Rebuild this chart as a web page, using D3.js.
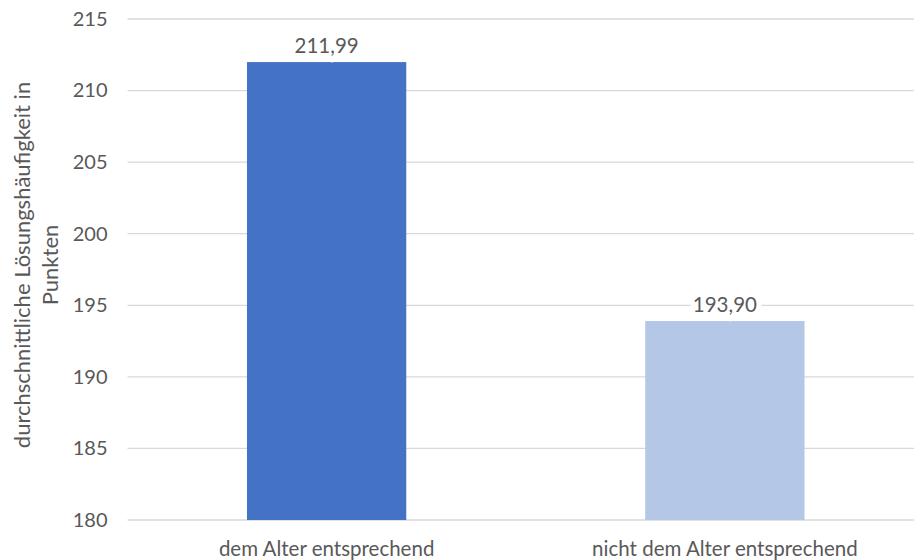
<!DOCTYPE html>
<html>
<head>
<meta charset="utf-8">
<script src="https://cdn.jsdelivr.net/npm/d3@7"></script>
<style>
  html, body { margin: 0; padding: 0; background: #ffffff; }
  svg { display: block; }
  text { font-family: "Lato", "Open Sans", sans-serif; fill: #595959; }
</style>
</head>
<body>
<svg id="chart" width="914" height="560"></svg>
<script>
// Categories and their average scores
const categories = ["dem Alter entsprechend", "nicht dem Alter entsprechend"];
const values = [211.99, 193.90];
const valueLabels = ["211,99", "193,90"];
const yTicks = [180, 185, 190, 195, 200, 205, 210, 215];
const colors = ["#4472c4", "#b4c7e7"];
const yTitle = ["durchschnittliche Lösungshäufigkeit in", "Punkten"];

const svg = d3.select("#chart");
const margin = { left: 127.5, top: 19, right: -10, bottom: 40 };
const width = 914 - margin.left - margin.right;
const height = 560 - margin.top - margin.bottom;

const g = svg.append("g").attr("transform", `translate(${margin.left},${margin.top})`);

const x = d3.scaleBand().domain(categories).range([0, width]).paddingInner(0.6).paddingOuter(0.3);
const y = d3.scaleLinear().domain([180, 215]).range([height, 0]);

// Horizontal gridlines
g.append("g")
  .selectAll("line")
  .data(yTicks)
  .join("line")
  .attr("x1", 0)
  .attr("x2", width)
  .attr("y1", d => y(d))
  .attr("y2", d => y(d))
  .attr("stroke", "#d9d9d9")
  .attr("stroke-width", 1.3);

// Y axis tick labels
const yAxis = d3.axisLeft(y).tickValues(yTicks).tickSize(0).tickPadding(20).tickFormat(d3.format("d"));
g.append("g").call(yAxis).call(s => s.select(".domain").remove())
  .selectAll("text")
  .style("font-size", "20px")
  .attr("fill", "#595959");

// Bars
g.append("g")
  .selectAll("rect")
  .data(values)
  .join("rect")
  .attr("x", (d, i) => x(categories[i]))
  .attr("width", x.bandwidth())
  .attr("y", d => y(d))
  .attr("height", d => y(180) - y(d))
  .attr("fill", (d, i) => colors[i]);

// Value labels with a white halo over the gridlines
g.append("g")
  .selectAll("text")
  .data(values)
  .join("text")
  .attr("x", (d, i) => x(categories[i]) + x.bandwidth() / 2)
  .attr("y", d => y(d) - 9)
  .attr("text-anchor", "middle")
  .style("font-size", "20.5px")
  .attr("stroke", "#ffffff")
  .attr("stroke-width", 10)
  .attr("paint-order", "stroke")
  .text((d, i) => valueLabels[i]);

// Category axis labels
const xAxis = d3.axisBottom(x).tickSize(0).tickPadding(21);
g.append("g").attr("transform", `translate(0,${height})`).call(xAxis)
  .call(s => s.select(".domain").remove())
  .selectAll("text")
  .style("font-size", "20.5px")
  .attr("fill", "#595959");

// Rotated y-axis title
const title = svg.append("text")
  .attr("transform", "translate(30,265) rotate(-90)")
  .attr("text-anchor", "middle")
  .style("font-size", "22px");
title.selectAll("tspan")
  .data(yTitle)
  .join("tspan")
  .attr("x", 0)
  .attr("dy", (d, i) => i === 0 ? 0 : 28)
  .text(d => d);
</script>
</body>
</html>
